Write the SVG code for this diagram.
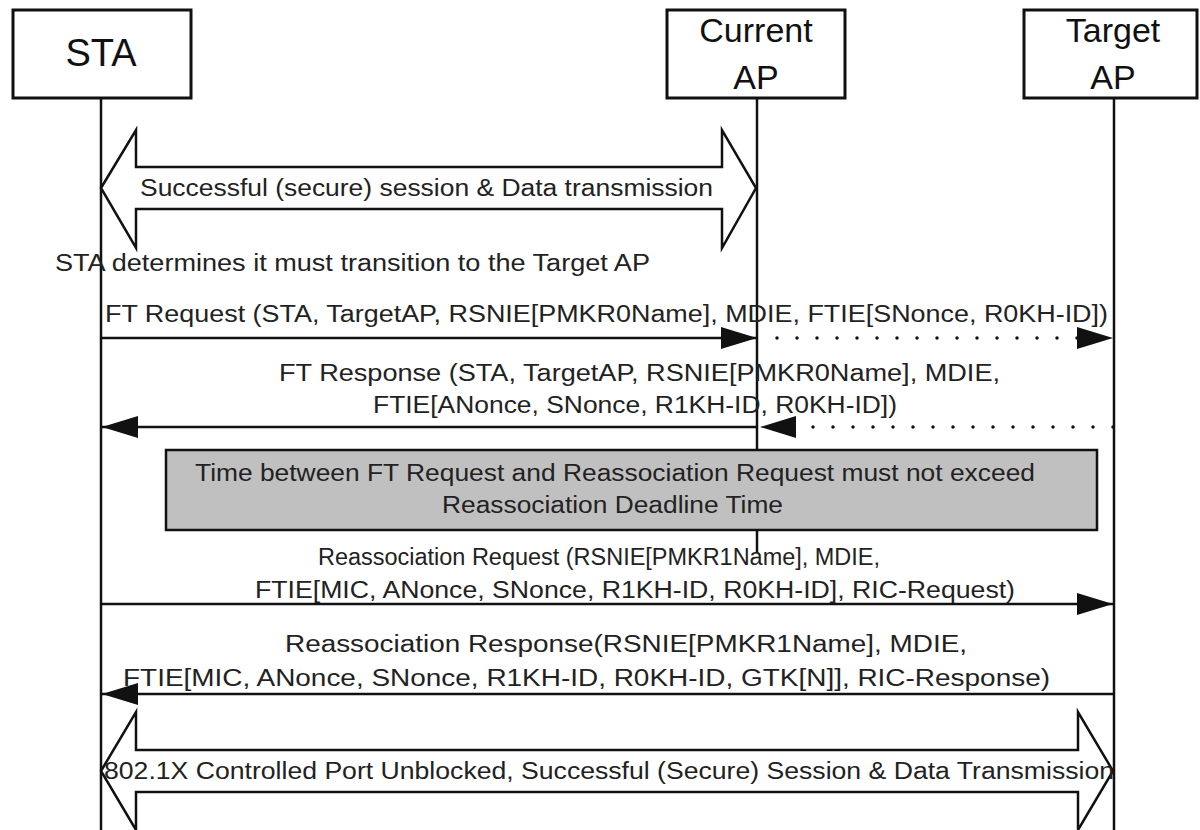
<svg xmlns="http://www.w3.org/2000/svg" width="1200" height="830" viewBox="0 0 1200 830">
<style>
.box{fill:#fff;stroke:#111;stroke-width:3}
.life{stroke:#111;stroke-width:2.5;fill:none}
.msg{stroke:#111;stroke-width:2.5;fill:none}
.dot{stroke:#111;stroke-width:3.5;fill:none;stroke-dasharray:0 20;stroke-linecap:round}
.blk{fill:#fff;stroke:#111;stroke-width:2.5;stroke-linejoin:miter}
.t{font-family:"Liberation Sans",Arial,sans-serif;font-size:23px;fill:#222}
.h{font-family:"Liberation Sans",Arial,sans-serif;font-size:34px;fill:#111;text-anchor:middle}
.gray{fill:#c0c0c0;stroke:#111;stroke-width:2.5}
</style>
<defs>
<marker id="ah" viewBox="0 0 36 22" refX="36" refY="11" markerWidth="36" markerHeight="22" markerUnits="userSpaceOnUse" orient="auto">
<path d="M0,0 L36,11 L0,22 Z" fill="#111"/>
</marker>
</defs>
<g id="lifelines">
<line class="life" x1="101" y1="98" x2="101" y2="830"/>
<line class="life" x1="757" y1="98" x2="757" y2="553"/>
<line class="life" x1="1114" y1="98" x2="1114" y2="830"/>
</g>
<g id="sta">
<rect class="box" x="13" y="10" width="178" height="88"/>
<text class="h" x="101" y="66" font-size="38" style="font-size:38px">STA</text>
</g>
<g id="current-ap">
<rect class="box" x="667" y="10" width="178" height="88"/>
<text class="h" x="756" y="42">Current</text>
<text class="h" x="756" y="89">AP</text>
</g>
<g id="target-ap">
<rect class="box" x="1024" y="10" width="173" height="88"/>
<text class="h" x="1113" y="42">Target</text>
<text class="h" x="1113" y="89">AP</text>
</g>
<g id="session-top">
<path class="blk" d="M101,188 L136,130 L136,167 L722,167 L722,130 L756,188 L722,248 L722,209 L136,209 L136,248 Z"/>
<text class="t" x="140" y="196" textLength="573" lengthAdjust="spacingAndGlyphs">Successful (secure) session &amp; Data transmission</text>
</g>
<g id="note-transition">
<text class="t" x="55" y="271" textLength="595" lengthAdjust="spacingAndGlyphs">STA determines it must transition to the Target AP</text>
</g>
<g id="deadline">
<rect class="gray" x="166" y="450" width="931" height="80"/>
<text class="t" x="195" y="481" textLength="840" lengthAdjust="spacingAndGlyphs">Time between FT Request and Reassociation Request must not exceed</text>
<text class="t" x="442" y="513" textLength="341" lengthAdjust="spacingAndGlyphs">Reassociation Deadline Time</text>
</g>
<g id="connectors">
<line class="msg" x1="101" y1="338" x2="757" y2="338" marker-end="url(#ah)"/>
<line class="dot" x1="777" y1="338" x2="1113" y2="338" marker-end="url(#ah)"/>
<line class="dot" x1="1113" y1="427" x2="760" y2="427" marker-end="url(#ah)"/>
<line class="msg" x1="757" y1="427" x2="102" y2="427" marker-end="url(#ah)"/>
<line class="msg" x1="101" y1="604" x2="1113" y2="604" marker-end="url(#ah)"/>
<line class="msg" x1="1114" y1="694" x2="102" y2="694" marker-end="url(#ah)"/>
</g>
<g id="labels">
<text class="t" x="105" y="322" textLength="1003" lengthAdjust="spacingAndGlyphs">FT Request (STA, TargetAP,  RSNIE[PMKR0Name], MDIE, FTIE[SNonce, R0KH-ID])</text>
<text class="t" x="279" y="381" textLength="721" lengthAdjust="spacingAndGlyphs">FT Response (STA, TargetAP, RSNIE[PMKR0Name], MDIE,</text>
<text class="t" x="373" y="413" textLength="524" lengthAdjust="spacingAndGlyphs">FTIE[ANonce, SNonce, R1KH-ID, R0KH-ID])</text>
<text class="t" x="318" y="565" textLength="562" lengthAdjust="spacingAndGlyphs">Reassociation Request (RSNIE[PMKR1Name], MDIE,</text>
<text class="t" x="255" y="598" textLength="760" lengthAdjust="spacingAndGlyphs">FTIE[MIC, ANonce, SNonce, R1KH-ID, R0KH-ID], RIC-Request)</text>
<text class="t" x="285" y="652" textLength="682" lengthAdjust="spacingAndGlyphs">Reassociation Response(RSNIE[PMKR1Name], MDIE,</text>
<text class="t" x="123" y="686" textLength="927" lengthAdjust="spacingAndGlyphs">FTIE[MIC, ANonce, SNonce, R1KH-ID, R0KH-ID, GTK[N]], RIC-Response)</text>
</g>
<g id="session-bottom">
<path class="blk" d="M101,771 L136,712 L136,750 L1078,750 L1078,712 L1113,771 L1078,830 L1078,792 L136,792 L136,830 Z"/>
<text class="t" x="104" y="779" textLength="1010" lengthAdjust="spacingAndGlyphs">802.1X Controlled Port Unblocked, Successful (Secure) Session &amp; Data Transmission</text>
</g>
</svg>
